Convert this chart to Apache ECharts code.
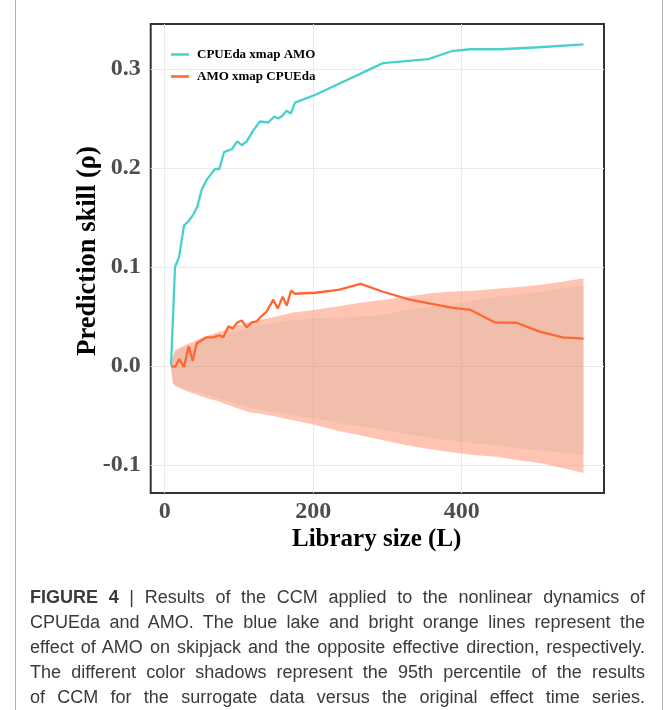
<!DOCTYPE html>
<html><head><meta charset="utf-8">
<script src="https://cdn.jsdelivr.net/npm/echarts@6/dist/echarts.min.js"></script>
<style>
html,body{margin:0;padding:0;background:#fff;}
#wrap{position:relative;width:667px;height:710px;overflow:hidden;}
#chart{position:absolute;left:0;top:0;width:667px;height:710px;}
#caption{position:absolute;left:30px;top:584.5px;width:615px;font-family:"Liberation Sans",Arial,sans-serif;font-size:18px;line-height:25.2px;color:#3a3a3a;}
#caption div{text-align:justify;text-align-last:justify;}
.vline{position:absolute;top:0;width:0;height:710px;border-left:1px solid #b0b0b0;}
</style></head>
<body>
<div id="wrap">
<div class="vline" style="left:15px"></div>
<div class="vline" style="left:662px"></div>
<div id="chart"></div>
<div id="caption">
<div><b>FIGURE 4</b> | Results of the CCM applied to the nonlinear dynamics of</div>
<div>CPUEda and AMO. The blue lake and bright orange lines represent the</div>
<div>effect of AMO on skipjack and the opposite effective direction, respectively.</div>
<div>The different color shadows represent the 95th percentile of the results</div>
<div>of CCM for the surrogate data versus the original effect time series.</div>
</div>
</div>
<script>
// ---- data ----
const cyanL = [8.5,13.9,19.3,26,31.8,38.5,43.9,49.8,56.5,67.7,73.5,79.9,90.2,97.8,103.7,110.4,119.3,128.3,139.5,147.6,153,158.9,164.3,169.7,175.5,203,294,355,386,411,452,504,564];
const cyanV = [0.001,0.100,0.110,0.142,0.146,0.153,0.161,0.178,0.188,0.199,0.199,0.216,0.219,0.227,0.223,0.227,0.238,0.247,0.246,0.252,0.250,0.253,0.258,0.255,0.266,0.274,0.306,0.310,0.318,0.320,0.320,0.322,0.325];
const orangeL = [8.5,13.9,19.7,26,32.3,37.7,43.1,49.8,56.6,65.5,73.5,79,85.7,91.6,97.8,103.7,110.4,117.2,123.9,128.3,137.3,146.3,152.2,158.9,164.3,170.1,175.5,203,234,264,294,330,386,412,445,474,505,536,564];
const orangeV = [0.000,-0.001,0.007,-0.001,0.020,0.005,0.023,0.026,0.029,0.029,0.031,0.029,0.040,0.038,0.044,0.046,0.039,0.044,0.045,0.049,0.055,0.067,0.058,0.070,0.061,0.076,0.073,0.074,0.077,0.083,0.075,0.067,0.059,0.0566,0.044,0.0437,0.0347,0.029,0.0276];
const bandL      = [8, 11, 14, 24, 38, 55, 74, 95, 115, 128, 150, 173, 200, 236, 263, 294, 326, 358, 384, 416, 447, 474, 505, 535, 564];
const outerUpper = [0.000,0.010,0.016,0.020,0.0245,0.030,0.0347,0.040,0.0448,0.0465,0.050,0.054,0.0566,0.0606,0.064,0.0667,0.070,0.0734,0.075,0.076,0.078,0.0795,0.0818,0.085,0.0886];
const outerLower = [0.000,-0.018,-0.020,-0.024,-0.0276,-0.032,-0.036,-0.042,-0.047,-0.048,-0.051,-0.0548,-0.059,-0.066,-0.070,-0.075,-0.080,-0.084,-0.087,-0.090,-0.0916,-0.095,-0.098,-0.103,-0.108];
const innerUpper = [0.000,0.009,0.0145,0.018,0.021,0.026,0.029,0.034,0.038,0.041,0.044,0.0465,0.048,0.049,0.050,0.0515,0.057,0.059,0.0616,0.066,0.070,0.072,0.075,0.078,0.081];
const innerLower = [0.000,-0.017,-0.019,-0.022,-0.025,-0.029,-0.033,-0.038,-0.042,-0.044,-0.047,-0.050,-0.053,-0.058,-0.061,-0.0646,-0.069,-0.073,-0.075,-0.078,-0.080,-0.083,-0.085,-0.088,-0.090];
const xTicks = [0, 200, 400];
const yTicks = [-0.1, 0.0, 0.1, 0.2, 0.3];
const seriesNames = ['CPUEda xmap AMO', 'AMO xmap CPUEda'];
const xTitle = 'Library size (L)';
const yTitle = 'Prediction skill (\u03c1)';

// ---- chart ----
const serif = '"Liberation Serif","Times New Roman",serif';
const xMin = -18.86, xMax = 591.6, yMin = -0.1283, yMax = 0.3455;
const zip = (a, b) => a.map((v, i) => [v, b[i]]);
function band(upper, lower, color, z) {
  return {
    type: 'custom', coordinateSystem: 'cartesian2d', silent: true, z: z,
    data: [[0, 0]],
    renderItem: function (params, api) {
      const pts = [];
      for (let i = 0; i < bandL.length; i++) pts.push(api.coord([bandL[i], upper[i]]));
      for (let i = bandL.length - 1; i >= 0; i--) pts.push(api.coord([bandL[i], lower[i]]));
      return { type: 'polygon', shape: { points: pts }, style: { fill: color } };
    }
  };
}
const chart = echarts.init(document.getElementById('chart'));
chart.setOption({
  animation: false,
  grid: { left: 150.7, right: 63, top: 24, bottom: 217, show: true, borderColor: '#333333', borderWidth: 2, backgroundColor: 'rgba(0,0,0,0)' },
  xAxis: {
    type: 'value', min: xMin, max: xMax,
    axisLine: { show: false },
    axisTick: { show: false, customValues: xTicks },
    axisLabel: { customValues: xTicks, formatter: v => String(Math.round(v)), fontFamily: serif, fontSize: 24, fontWeight: 'bold', color: '#4d4d4d', margin: 7 },
    splitLine: { show: true, lineStyle: { color: '#ebebeb', width: 1 } }
  },
  yAxis: {
    type: 'value', min: yMin, max: yMax,
    axisLine: { show: false },
    axisTick: { show: false, customValues: yTicks },
    axisLabel: { customValues: yTicks, formatter: v => v.toFixed(1), fontFamily: serif, fontSize: 24, fontWeight: 'bold', color: '#4d4d4d', margin: 10 },
    splitLine: { show: true, lineStyle: { color: '#ebebeb', width: 1 } }
  },
  legend: {
    data: seriesNames, orient: 'vertical', left: 171, top: 44.5, padding: 0, icon: 'rect',
    itemWidth: 18, itemHeight: 2.5, itemGap: 2,
    textStyle: { fontFamily: serif, fontSize: 13, fontWeight: 'bold', color: '#000', lineHeight: 20, padding: [0, 0, 0, 3] }
  },
  graphic: [
    { type: 'text', x: 376.7, y: 540, style: { text: xTitle, font: 'bold 25px ' + serif, fill: '#000', textAlign: 'center', textVerticalAlign: 'middle' } },
    { type: 'text', x: 88, y: 251, rotation: Math.PI / 2, style: { text: yTitle, font: 'bold 26.5px ' + serif, fill: '#000', textAlign: 'center', textVerticalAlign: 'middle' } }
  ],
  series: [
    band(outerUpper, outerLower, 'rgba(255,125,85,0.45)', 1),
    band(innerUpper, innerLower, 'rgba(120,150,120,0.11)', 2),
    { name: seriesNames[0], type: 'line', data: zip(cyanL, cyanV), symbol: 'none', z: 5, color: '#48D1CC', lineStyle: { width: 2.3, color: '#48D1CC' } },
    { name: seriesNames[1], type: 'line', data: zip(orangeL, orangeV), symbol: 'none', z: 4, color: '#FF6633', lineStyle: { width: 2.3, color: '#FF6633' } }
  ]
});
</script>
</body></html>
